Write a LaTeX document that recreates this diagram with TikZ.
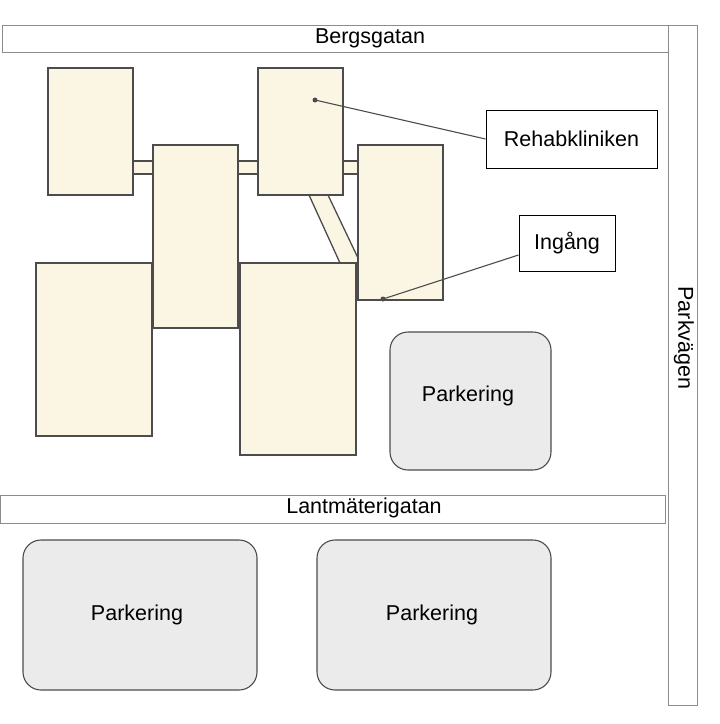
\documentclass[tikz,border=0pt]{standalone}
\usepackage{fontspec}
\setmainfont{Liberation Sans}
\definecolor{housefill}{HTML}{FBF6E4}
\tikzset{
  road/.style={draw=black!45, fill=white, line width=1pt},
  house/.style={draw=black!70, fill=housefill, line width=1.3pt},
  park/.style={draw=black!70, fill=black!8, rounded corners=18pt, line width=1.1pt},
  label/.style={draw=black, fill=white, line width=1pt, inner sep=0pt},
  pin/.style={draw=black!70, line width=1.1pt},
  txt/.style={font=\fontsize{21.5}{24}\selectfont}
}
\begin{document}
\begin{tikzpicture}[x=1pt, y=-1pt]
  \useasboundingbox (0,0) rectangle (720,724);
  % roads
  \draw[road] (2,25) rectangle (668,52);
  \node[txt] (berg) at (370,38) {Bergsgatan};
  \draw[road] (668,25) rectangle (697,705);
  \node[txt, rotate=-90] (parkv) at (684,338) {Parkvägen};
  \draw[road] (0,495) rectangle (665,523);
  \node[txt] (lant) at (364,508) {Lantmäterigatan};
  % corridors
  \draw[house] (133,161) rectangle (153,174);
  \draw[house] (238,161) rectangle (258,174);
  \draw[house] (343,161) rectangle (358,174);
  \draw[house] (309,195) -- (328,195) -- (358,258) -- (358,263) -- (340,263) -- cycle;
  % buildings
  \draw[house] (48,68) rectangle (133,195);
  \draw[house] (258,68) rectangle (343,195);
  \draw[house] (153,145) rectangle (238,328);
  \draw[house] (358,145) rectangle (443,300);
  \draw[house] (36,263) rectangle (152,436);
  \draw[house] (240,263) rectangle (356,455);
  % parking
  \draw[park] (390,332) rectangle (551,470);
  \node[txt] (p1) at (468,396) {Parkering};
  \draw[park] (23,540) rectangle (257,690);
  \node[txt] (p2) at (137,615) {Parkering};
  \draw[park] (317,540) rectangle (551,690);
  \node[txt] (p3) at (432,615) {Parkering};
  % labels
  \node[label, txt, minimum width=171pt, minimum height=58pt] (rehab) at (571.5,139) {Rehabkliniken};
  \node[label, txt, minimum width=96pt, minimum height=56pt] (ingang) at (567,243) {Ingång};
  \coordinate (rehabpt) at (315,100);
  \coordinate (ingpt) at (383,299);
  \fill[black!70] (rehabpt) circle (2.5pt);
  \fill[black!70] (ingpt) circle (2.5pt);
  \draw[pin] (rehabpt) -- (rehab.west);
  \draw[pin] (ingpt) -- ([yshift=-12pt]ingang.west);
\end{tikzpicture}
\end{document}
